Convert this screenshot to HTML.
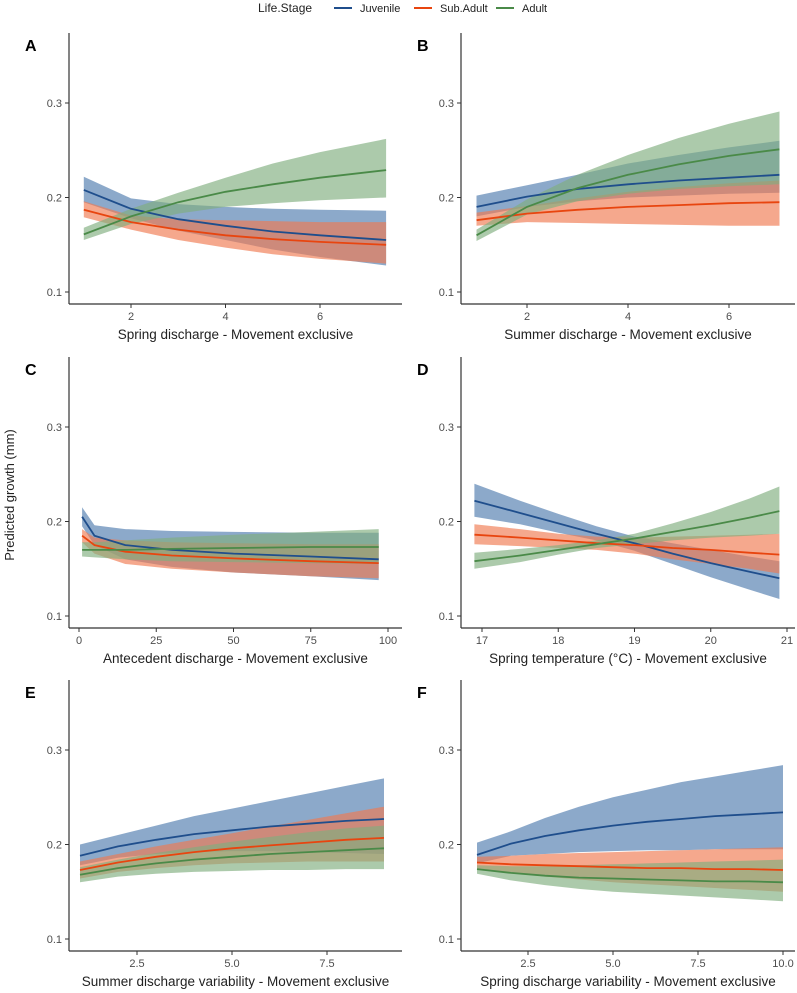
<!DOCTYPE html>
<html><head><meta charset="utf-8"><style>
body{margin:0;background:#fff;font-family:"Liberation Sans",Arial,sans-serif}
svg{display:block}
</style></head><body>
<svg id="fig" width="797" height="993" viewBox="0 0 797 993">
<g font-size="12" fill="#222">
<text x="258" y="12">Life.Stage</text>
<line x1="334" y1="8" x2="352" y2="8" stroke="#1f4e8c" stroke-width="2"/>
<text x="360" y="12" font-size="11">Juvenile</text>
<line x1="414" y1="8" x2="432" y2="8" stroke="#e8450f" stroke-width="2"/>
<text x="440" y="12" font-size="11">Sub.Adult</text>
<line x1="496" y1="8" x2="514" y2="8" stroke="#4a8a48" stroke-width="2"/>
<text x="522" y="12" font-size="11">Adult</text>
</g>
<text transform="translate(14,495) rotate(-90)" text-anchor="middle" font-size="13" fill="#222">Predicted growth (mm)</text>
</svg>
<script>
const yTicks=[0.1,0.2,0.3];
// Panel A
const xA=[1,2,3,4,5,6,7.4];
const juvA=[0.208,0.188,0.177,0.170,0.164,0.160,0.155], juvAhi=[0.222,0.199,0.193,0.190,0.188,0.187,0.186], juvAlo=[0.195,0.178,0.165,0.155,0.145,0.137,0.128];
const subA=[0.187,0.174,0.166,0.160,0.156,0.153,0.150], subAhi=[0.196,0.181,0.177,0.176,0.175,0.174,0.174], subAlo=[0.179,0.166,0.155,0.147,0.140,0.135,0.130];
const adA=[0.161,0.180,0.195,0.206,0.214,0.221,0.229], adAhi=[0.168,0.188,0.205,0.221,0.236,0.248,0.262], adAlo=[0.155,0.172,0.183,0.190,0.194,0.197,0.200];
const ticksA=[2,4,6], labelsA=["2","4","6"];
// Panel B
const xB=[1,2,3,4,5,6,7];
const juvB=[0.190,0.201,0.209,0.214,0.218,0.221,0.224], juvBhi=[0.202,0.213,0.224,0.236,0.245,0.253,0.260], juvBlo=[0.180,0.190,0.196,0.200,0.202,0.204,0.205];
const subB=[0.176,0.183,0.187,0.190,0.192,0.194,0.195], subBhi=[0.184,0.191,0.199,0.206,0.211,0.215,0.218], subBlo=[0.170,0.174,0.173,0.172,0.171,0.170,0.170];
const adB=[0.160,0.190,0.210,0.224,0.235,0.244,0.251], adBhi=[0.166,0.198,0.224,0.245,0.263,0.278,0.291], adBlo=[0.154,0.182,0.196,0.204,0.209,0.212,0.214];
const ticksB=[2,4,6], labelsB=["2","4","6"];
// Panel C
const xC=[1,5,15,30,50,75,97];
const juvC=[0.205,0.185,0.175,0.170,0.166,0.163,0.160], juvChi=[0.215,0.196,0.192,0.190,0.189,0.188,0.188], juvClo=[0.195,0.175,0.160,0.152,0.146,0.142,0.138];
const subC=[0.185,0.175,0.168,0.164,0.161,0.158,0.156], subChi=[0.192,0.183,0.180,0.178,0.177,0.176,0.176], subClo=[0.178,0.166,0.155,0.150,0.146,0.142,0.140];
const adC=[0.170,0.170,0.170,0.171,0.172,0.173,0.173], adChi=[0.178,0.178,0.180,0.183,0.186,0.189,0.192], adClo=[0.163,0.162,0.160,0.158,0.157,0.156,0.155];
const ticksC=[0,25,50,75,100], labelsC=["0","25","50","75","100"];
// Panel D
const xD=[16.9,17.5,18,18.5,19,19.5,20,20.5,20.9];
const juvD=[0.222,0.209,0.198,0.187,0.177,0.166,0.156,0.147,0.140], juvDhi=[0.240,0.222,0.208,0.195,0.184,0.177,0.170,0.163,0.158], juvDlo=[0.205,0.197,0.188,0.180,0.169,0.155,0.141,0.128,0.118];
const subD=[0.186,0.183,0.180,0.177,0.175,0.172,0.170,0.167,0.165], subDhi=[0.197,0.192,0.187,0.184,0.183,0.184,0.185,0.186,0.187], subDlo=[0.176,0.174,0.172,0.170,0.166,0.160,0.155,0.150,0.145];
const adD=[0.158,0.164,0.170,0.176,0.182,0.189,0.196,0.204,0.211], adDhi=[0.167,0.171,0.175,0.180,0.187,0.198,0.210,0.224,0.237], adDlo=[0.150,0.157,0.165,0.172,0.176,0.180,0.183,0.185,0.187];
const ticksD=[17,18,19,20,21], labelsD=["17","18","19","20","21"];
// Panel E
const xE=[1,2,3,4,5,6,7,8,9];
const juvE=[0.188,0.198,0.205,0.211,0.215,0.219,0.222,0.225,0.227], juvEhi=[0.200,0.210,0.220,0.230,0.238,0.246,0.254,0.262,0.270], juvElo=[0.178,0.186,0.190,0.192,0.193,0.193,0.192,0.191,0.190];
const subE=[0.173,0.181,0.187,0.192,0.196,0.199,0.202,0.205,0.207], subEhi=[0.182,0.190,0.198,0.205,0.212,0.219,0.226,0.233,0.240], subElo=[0.164,0.171,0.175,0.178,0.180,0.181,0.182,0.182,0.182];
const adE=[0.168,0.175,0.180,0.184,0.187,0.190,0.192,0.194,0.196], adEhi=[0.176,0.184,0.191,0.197,0.203,0.208,0.213,0.217,0.220], adElo=[0.160,0.166,0.169,0.171,0.172,0.173,0.173,0.174,0.174];
const ticksE=[2.5,5,7.5], labelsE=["2.5","5.0","7.5"];
// Panel F
const xF=[1,2,3,4,5,6,7,8,9,10];
const juvF=[0.189,0.201,0.209,0.215,0.220,0.224,0.227,0.230,0.232,0.234], juvFhi=[0.202,0.214,0.228,0.240,0.250,0.258,0.266,0.272,0.278,0.284], juvFlo=[0.180,0.188,0.190,0.192,0.193,0.194,0.194,0.195,0.195,0.195];
const subF=[0.181,0.179,0.178,0.177,0.176,0.175,0.175,0.174,0.174,0.173], subFhi=[0.187,0.188,0.190,0.191,0.192,0.193,0.194,0.195,0.196,0.197], subFlo=[0.175,0.170,0.166,0.163,0.160,0.158,0.156,0.154,0.152,0.150];
const adF=[0.174,0.170,0.167,0.165,0.164,0.163,0.162,0.161,0.161,0.160], adFhi=[0.178,0.177,0.177,0.178,0.179,0.180,0.181,0.182,0.183,0.184], adFlo=[0.169,0.162,0.157,0.153,0.150,0.148,0.146,0.144,0.142,0.140];
const ticksF=[2.5,5,7.5,10], labelsF=["2.5","5.0","7.5","10.0"];

const NS="http://www.w3.org/2000/svg", svg=document.getElementById('fig');
function mk(tag,attrs,parent){const e=document.createElementNS(NS,tag);for(const k in attrs)e.setAttribute(k,attrs[k]);parent.appendChild(e);return e;}
const COL={juv:["#1f4e8c","#4f7bad"],sub:["#e8450f","#f07a50"],ad:["#4a8a48","#7fae7e"]};
const panels=[
 {L:"A",col:0,row:0,title:"Spring discharge - Movement exclusive",x:xA,s:{juv:[juvA,juvAlo,juvAhi],sub:[subA,subAlo,subAhi],ad:[adA,adAlo,adAhi]},t:ticksA,tl:labelsA,p0:[2,131],p1:[6,320]},
 {L:"B",col:1,row:0,title:"Summer discharge - Movement exclusive",x:xB,s:{juv:[juvB,juvBlo,juvBhi],sub:[subB,subBlo,subBhi],ad:[adB,adBlo,adBhi]},t:ticksB,tl:labelsB,p0:[2,527],p1:[6,729]},
 {L:"C",col:0,row:1,title:"Antecedent discharge - Movement exclusive",x:xC,s:{juv:[juvC,juvClo,juvChi],sub:[subC,subClo,subChi],ad:[adC,adClo,adChi]},t:ticksC,tl:labelsC,p0:[0,79],p1:[100,388]},
 {L:"D",col:1,row:1,title:"Spring temperature (°C) - Movement exclusive",x:xD,s:{juv:[juvD,juvDlo,juvDhi],sub:[subD,subDlo,subDhi],ad:[adD,adDlo,adDhi]},t:ticksD,tl:labelsD,p0:[17,482],p1:[21,787]},
 {L:"E",col:0,row:2,title:"Summer discharge variability - Movement exclusive",x:xE,s:{juv:[juvE,juvElo,juvEhi],sub:[subE,subElo,subEhi],ad:[adE,adElo,adEhi]},t:ticksE,tl:labelsE,p0:[2.5,137],p1:[7.5,327]},
 {L:"F",col:1,row:2,title:"Spring discharge variability - Movement exclusive",x:xF,s:{juv:[juvF,juvFlo,juvFhi],sub:[subF,subFlo,subFhi],ad:[adF,adFlo,adFhi]},t:ticksF,tl:labelsF,p0:[2.5,528],p1:[10,783]}
];
const rowOff=[0,324,647];
panels.forEach(P=>{
 const ax0=P.col?461:69, ax1=P.col?795:402, off=rowOff[P.row];
 const bottom=304+off, top=33+off;
 const Y=v=>292+off-(v-0.1)*945;
 const X=v=>P.p0[1]+(v-P.p0[0])*(P.p1[1]-P.p0[1])/(P.p1[0]-P.p0[0]);
 const g=mk('g',{},svg);
 
 
 const lab=mk('text',{x:ax0-44,y:top+18,'font-size':16,'font-weight':'bold',fill:'#000'},g);lab.textContent=P.L;
 
 
 ["juv","sub","ad"].forEach(k=>{
  const [m,lo,hi]=P.s[k];
  let d='M'+P.x.map((x,i)=>X(x).toFixed(1)+','+Y(hi[i]).toFixed(1)).join('L');
  for(let i=P.x.length-1;i>=0;i--)d+='L'+X(P.x[i]).toFixed(1)+','+Y(lo[i]).toFixed(1);
  const r=mk('path',{d:d+'Z',fill:COL[k][1],'fill-opacity':0.65},g);
  
  
 });
 ["juv","sub","ad"].forEach(k=>{
  const m=P.s[k][0];
  const l=mk('polyline',{points:P.x.map((x,i)=>X(x).toFixed(1)+','+Y(m[i]).toFixed(1)).join(' '),fill:'none',stroke:COL[k][0],'stroke-width':1.8},g);
  
  
 });
 const ya=mk('line',{x1:ax0,y1:top,x2:ax0,y2:bottom,stroke:'#333','stroke-width':1.2},g);
 
 
 const xa=mk('line',{x1:ax0,y1:bottom,x2:ax1,y2:bottom,stroke:'#333','stroke-width':1.2},g);
 
 
 yTicks.forEach(t=>{
  mk('line',{x1:ax0-4,x2:ax0,y1:Y(t),y2:Y(t),stroke:'#333'},g);
  const tx=mk('text',{x:ax0-7,y:Y(t)+4,'text-anchor':'end','font-size':11,fill:'#4d4d4d'},g);tx.textContent=t.toFixed(1);
  
  
 });
 P.t.forEach((t,i)=>{
  mk('line',{x1:X(t),x2:X(t),y1:bottom,y2:bottom+4,stroke:'#333'},g);
  const tx=mk('text',{x:X(t),y:bottom+16,'text-anchor':'middle','font-size':11,fill:'#4d4d4d'},g);tx.textContent=P.tl[i];
  
  
 });
 const tt=mk('text',{x:(ax0+ax1)/2,y:bottom+35,'text-anchor':'middle','font-size':13.5,fill:'#222'},g);tt.textContent=P.title;
 
 
});
</script>
</body></html>
